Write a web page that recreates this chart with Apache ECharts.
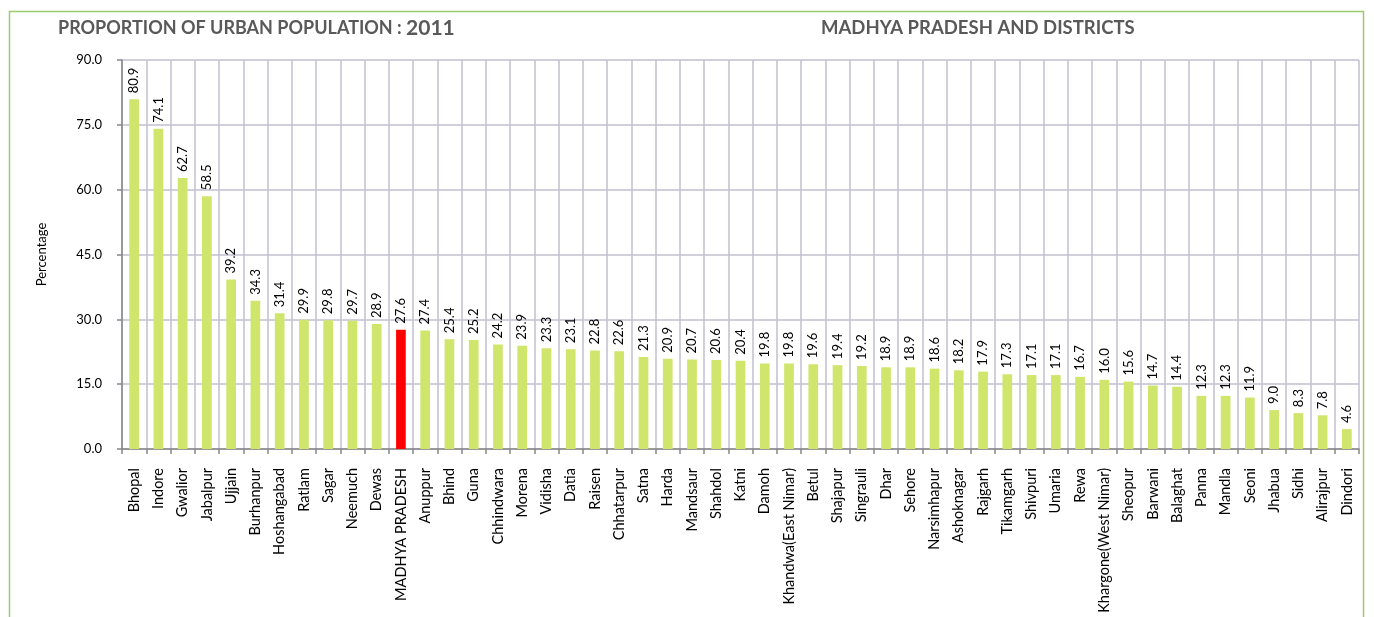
<!DOCTYPE html>
<html>
<head>
<meta charset="utf-8">
<script src="https://cdn.jsdelivr.net/npm/echarts@6/dist/echarts.min.js"></script>
<style>
    html, body { margin: 0; padding: 0; background: #fff; }
    #chart { width: 1374px; height: 617px; }
</style>
</head>
<body>
<div id="chart"></div>
<script>
var districts = ['Bhopal', 'Indore', 'Gwalior', 'Jabalpur', 'Ujjain', 'Burhanpur', 'Hoshangabad', 'Ratlam', 'Sagar', 'Neemuch',
    'Dewas', 'MADHYA PRADESH', 'Anuppur', 'Bhind', 'Guna', 'Chhindwara', 'Morena', 'Vidisha', 'Datia', 'Raisen',
    'Chhatarpur', 'Satna', 'Harda', 'Mandsaur', 'Shahdol', 'Katni', 'Damoh', 'Khandwa(East Nimar)', 'Betul', 'Shajapur',
    'Singrauli', 'Dhar', 'Sehore', 'Narsimhapur', 'Ashoknagar', 'Rajgarh', 'Tikamgarh', 'Shivpuri', 'Umaria', 'Rewa',
    'Khargone(West Nimar)', 'Sheopur', 'Barwani', 'Balaghat', 'Panna', 'Mandla', 'Seoni', 'Jhabua', 'Sidhi', 'Alirajpur',
    'Dindori'];
var urbanPct = [80.9, 74.1, 62.7, 58.5, 39.2, 34.3, 31.4, 29.9, 29.8, 29.7,
    28.9, 27.6, 27.4, 25.4, 25.2, 24.2, 23.9, 23.3, 23.1, 22.8,
    22.6, 21.3, 20.9, 20.7, 20.6, 20.4, 19.8, 19.8, 19.6, 19.4,
    19.2, 18.9, 18.9, 18.6, 18.2, 17.9, 17.3, 17.1, 17.1, 16.7,
    16.0, 15.6, 14.7, 14.4, 12.3, 12.3, 11.9, 9.0, 8.3, 7.8,
    4.6];
var stateName = 'MADHYA PRADESH';
var yTicks = [0, 15, 30, 45, 60, 75, 90];

var font = 'Lato, "Open Sans", sans-serif';

var chart = echarts.init(document.getElementById('chart'));

var barData = urbanPct.map(function(v, i){
    if(districts[i] === stateName){
        return { value: v, itemStyle: { color: '#ff0000' } };
    }
    return v;
});

var option = {
    animation: false,
    textStyle: { fontFamily: font },
    graphic: [
        {   // outer frame
            type: 'rect',
            shape: { x: 9.5, y: 11.5, width: 1354, height: 620 },
            style: { fill: 'none', stroke: '#9bcb6c', lineWidth: 1.5 }
        },
        {
            type: 'text', left: 58, top: 18,
            style: {
                text: '{a|PROPORTION OF URBAN POPULATION : }{b|2011}',
                rich: {
                    a: { fill: '#595959', fontWeight: 'bold', fontSize: 18, fontFamily: font },
                    b: { fill: '#595959', fontWeight: 'bold', fontSize: 21, fontFamily: font }
                }
            }
        },
        {
            type: 'text', left: 821, top: 19,
            style: { text: 'MADHYA PRADESH AND DISTRICTS', fill: '#595959',
                font: 'bold 18.5px ' + font }
        }
    ],
    grid: { left: 122, right: 15, top: 60, bottom: 168 },
    xAxis: {
        type: 'category',
        data: districts,
        axisLine: { lineStyle: { color: '#868686', width: 1.5 } },
        axisTick: { show: true, interval: 0, length: 5, lineStyle: { color: '#868686', width: 1.5 } },
        axisLabel: { interval: 0, rotate: 90, color: '#000', fontSize: 14.5, margin: 19, fontFamily: font },
        splitLine: { show: true, interval: 0, lineStyle: { color: '#c3bfd1', width: 1.5 } }
    },
    yAxis: {
        type: 'value',
        min: 0, max: 90, interval: 15,
        name: 'Percentage',
        nameLocation: 'middle',
        nameGap: 74,
        nameTextStyle: { color: '#000', fontSize: 13, fontFamily: font },
        axisLine: { show: true, lineStyle: { color: '#868686', width: 1.5 } },
        axisTick: { show: true, length: 5, lineStyle: { color: '#868686', width: 1.5 } },
        axisLabel: {
            color: '#000', fontSize: 13, margin: 20, fontFamily: font,
            formatter: function(v){ return yTicks.indexOf(v) >= 0 ? v.toFixed(1) : ''; }
        },
        splitLine: { show: true, lineStyle: { color: '#c3bfd1', width: 1.5 } }
    },
    series: [
        {
            type: 'bar',
            data: barData,
            barWidth: '40%',
            itemStyle: { color: '#cfe56c' },
            label: {
                show: true,
                position: 'top',
                rotate: 90,
                align: 'left',
                verticalAlign: 'middle',
                distance: 6,
                color: '#000',
                fontSize: 13,
                fontFamily: font,
                formatter: function(p){ return p.value.toFixed(1); }
            }
        }
    ]
};
chart.setOption(option);
</script>
</body>
</html>
